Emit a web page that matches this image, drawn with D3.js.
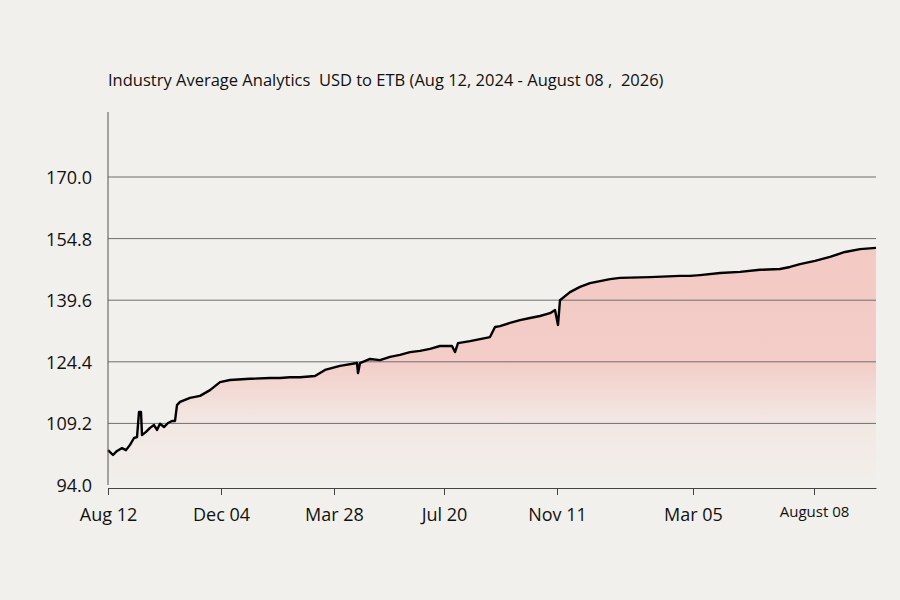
<!DOCTYPE html><html><head><meta charset="utf-8"><script src="https://cdn.jsdelivr.net/npm/d3@7"></script>
<style>body{margin:0;background:#f1f0ec}text{font-family:"Open Sans",sans-serif}</style></head><body><svg id="c" width="900" height="600"></svg>
<script>
const days=[0,5,9,14,18,22,26,29,31,33,34,38,42,46,49,52,56,60,64,67,69,72,82,92,102,112,122,142,162,172,182,192,207,217,232,249,250,252,262,272,282,292,302,312,322,332,344,347,350,362,382,387,392,402,412,422,432,442,447,450,452,462,472,482,492,502,512,542,572,582,592,612,632,652,672,682,692,707,722,737,752,768];
const values=[102.6,101.4,102.4,103.1,102.6,103.9,105.6,105.8,112.0,112.0,106.3,107.1,108.1,108.8,107.6,109.1,108.3,109.3,109.8,109.8,113.7,114.5,115.5,116.0,117.4,119.4,119.9,120.2,120.4,120.4,120.6,120.6,120.9,122.4,123.4,124.1,121.6,124.1,125.1,124.8,125.6,126.1,126.8,127.1,127.6,128.3,128.3,126.8,129.0,129.5,130.5,133.0,133.2,134.0,134.7,135.2,135.7,136.4,137.2,133.5,139.6,141.6,142.9,143.8,144.3,144.8,145.1,145.3,145.6,145.6,145.8,146.3,146.6,147.1,147.3,147.8,148.5,149.3,150.3,151.5,152.2,152.5];
const xTickDays=[0,113,226,336,449,585,706];
const xTickLabels=["Aug 12","Dec 04","Mar 28","Jul 20","Nov 11","Mar 05","August 08"];
const yTicks=[94.0,109.2,124.4,139.6,154.8,170.0];
const svg=d3.select("#c");
const x=d3.scaleLinear().domain([0,768]).range([108,876]);
const y=d3.scaleLinear().domain([94,170]).range([485,177]);
const defs=svg.append("defs");
const g=defs.append("linearGradient").attr("id","gr").attr("gradientUnits","userSpaceOnUse").attr("y1",240).attr("y2",485).attr("x1",0).attr("x2",0);
g.append("stop").attr("offset","0").attr("stop-color","#f3c9c3");
g.append("stop").attr("offset","0.5").attr("stop-color","#f3cdc8");
g.append("stop").attr("offset","0.72").attr("stop-color","#f2e6e2");
g.append("stop").attr("offset","1").attr("stop-color","#f1f0ec");
const data=days.map((d,i)=>[d,values[i]]);
svg.append("path").datum(data).attr("fill","url(#gr)").attr("d",d3.area().x(d=>x(d[0])).y0(485).y1(d=>y(d[1])));
svg.selectAll(".gl").data(yTicks.slice(1)).join("line").attr("x1",108).attr("x2",876).attr("y1",d=>y(d)).attr("y2",d=>y(d)).attr("stroke","#6e6e6e").attr("stroke-width",1);
svg.append("path").datum(data).attr("fill","none").attr("stroke","#000").attr("stroke-width",2.4).attr("stroke-linejoin","round").attr("d",d3.line().x(d=>x(d[0])).y(d=>y(d[1])));
svg.append("line").attr("x1",108).attr("x2",108).attr("y1",112).attr("y2",485).attr("stroke","#555");
svg.selectAll(".yl").data(yTicks).join("text").attr("x",92).attr("y",d=>y(d)+7).attr("text-anchor","end").attr("font-size",18).attr("fill","#111").text(d=>d.toFixed(1));
const xa=svg.append("g").attr("transform","translate(0,488)").call(d3.axisBottom(x).tickValues(xTickDays).tickFormat((d,i)=>xTickLabels[i]).tickSize(7).tickSizeOuter(0));
xa.select(".domain").attr("stroke","#444");
xa.selectAll("line").attr("stroke","#444");
xa.selectAll("text").attr("font-size",(d,i)=>i==6?15:18).attr("fill","#111").attr("dy","1.25em").attr("font-family","'Open Sans',sans-serif");
svg.append("text").attr("x",108).attr("y",86).attr("font-size",16.5).attr("fill","#111").text("Industry Average Analytics  USD to ETB (Aug 12, 2024 - August 08 ,  2026)").style("white-space","pre");
</script></body></html>
